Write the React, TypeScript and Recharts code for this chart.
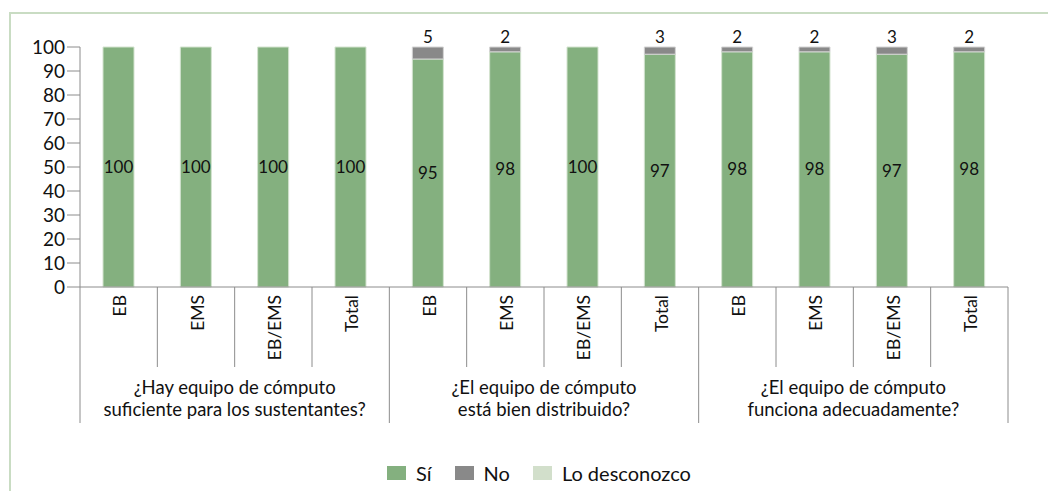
import { BarChart, Bar, XAxis, YAxis, LabelList, Legend } from 'recharts';

// categories and groups
const categories = ['EB', 'EMS', 'EB/EMS', 'Total', 'EB', 'EMS', 'EB/EMS', 'Total', 'EB', 'EMS', 'EB/EMS', 'Total'];
const groups = [
  ['¿Hay equipo de cómputo', 'suficiente para los sustentantes?'],
  ['¿El equipo de cómputo', 'está bien distribuido?'],
  ['¿El equipo de cómputo', 'funciona adecuadamente?'],
];

// series values (%)
const si = [100, 100, 100, 100, 95, 98, 100, 97, 98, 98, 97, 98];
const no = [0, 0, 0, 0, 5, 2, 0, 3, 2, 2, 3, 2];
const desconozco = [0, 0, 0, 0, 0, 0, 0, 0, 0, 0, 0, 0];

const yTicks = [0, 10, 20, 30, 40, 50, 60, 70, 80, 90, 100];

const data = categories.map((c, i) => ({
  id: `c${i}`,
  name: c,
  si: si[i],
  no: no[i],
  lo: desconozco[i],
}));

const COLORS = { si: '#84b07f', no: '#898989', lo: '#d2dfcb' };
const FONT = 'Lato, "Noto Sans", sans-serif';

const WIDTH = 1048;
const HEIGHT = 483;
const MARGIN = { top: 39, right: 48, left: 32, bottom: 8 };
const Y_WIDTH = 40;
const PLOT_W = WIDTH - MARGIN.left - MARGIN.right - Y_WIDTH;
const BAND = PLOT_W / categories.length;
const AXIS_GRAY = '#8c8c8c';

function CategoryTick(props: any) {
  const { x, y, index } = props;
  const half = BAND / 2;
  const groupEnd = index % 4 === 3;
  return (
    <g>
      <text
        transform={`translate(${x + 1},${y + 8}) rotate(-90)`}
        textAnchor="end"
        dominantBaseline="central"
        fontSize={17.5}
        fontFamily={FONT}
        fill="#111"
      >
        {categories[index]}
      </text>
      {index === 0 && (
        <line x1={x - half} x2={x - half} y1={y} y2={y + 136} stroke={AXIS_GRAY} strokeWidth={1} />
      )}
      <line
        x1={x + half}
        x2={x + half}
        y1={y}
        y2={y + (groupEnd ? 136 : 80)}
        stroke={AXIS_GRAY}
        strokeWidth={1}
      />
      {index % 4 === 1 && (
        <text
          x={x + half}
          y={y + 100}
          textAnchor="middle"
          dominantBaseline="central"
          fontSize={18.5}
          fontFamily={FONT}
          fill="#111"
        >
          <tspan x={x + half} dy={0}>{groups[(index - 1) / 4][0]}</tspan>
          <tspan x={x + half} dy={22}>{groups[(index - 1) / 4][1]}</tspan>
        </text>
      )}
    </g>
  );
}

function LegendContent() {
  const items = [
    { label: 'Sí', color: COLORS.si },
    { label: 'No', color: COLORS.no },
    { label: 'Lo desconozco', color: COLORS.lo },
  ];
  return (
    <div
      style={{
        height: 60,
        boxSizing: 'border-box',
        paddingTop: 40,
        paddingLeft: 347,
        display: 'flex',
        alignItems: 'center',
        fontFamily: FONT,
        fontSize: 20,
        color: '#111',
      }}
    >
      {items.map((it) => (
        <div key={it.label} style={{ display: 'flex', alignItems: 'center', marginRight: 23 }}>
          <span style={{ width: 19, height: 14, background: it.color, display: 'inline-block', marginRight: 10 }} />
          <span>{it.label}</span>
        </div>
      ))}
    </div>
  );
}

const hideZero = (v: any) => (v ? v : '');

export default function App() {
  return (
    <div style={{ position: 'relative', width: WIDTH, height: HEIGHT }}>
      <div
        style={{
          position: 'absolute',
          left: 1,
          top: 4,
          width: WIDTH - 1,
          height: HEIGHT - 4,
          borderTop: '2px solid #c9dcc3',
          borderLeft: '2px solid #c9dcc3',
          boxSizing: 'border-box',
        }}
      />
      <BarChart
        width={WIDTH}
        height={HEIGHT}
        data={data}
        margin={MARGIN}
        barSize={31}
        style={{ position: 'absolute', left: 0, top: 0 }}
      >
        <XAxis
          dataKey="id"
          height={136}
          interval={0}
          tickLine={false}
          tickSize={0}
          tickMargin={0}
          axisLine={{ stroke: AXIS_GRAY }}
          tick={<CategoryTick />}
        />
        <YAxis
          width={Y_WIDTH}
          domain={[0, 100]}
          ticks={yTicks}
          interval={0}
          tickSize={13}
          tickMargin={2}
          axisLine={{ stroke: AXIS_GRAY }}
          tickLine={{ stroke: AXIS_GRAY }}
          tick={{ fontSize: 19, fontFamily: FONT, fill: '#111' }}
        />
        <Legend verticalAlign="bottom" content={<LegendContent />} />
        <Bar dataKey="si" name="Sí" stackId="a" fill={COLORS.si} stroke="#d3e3cf" strokeWidth={1} isAnimationActive={false}>
          <LabelList
            dataKey="si"
            position="center"
            formatter={hideZero}
            style={{ fontSize: 17, fontFamily: FONT, fill: '#111' }}
          />
        </Bar>
        <Bar dataKey="no" name="No" stackId="a" fill={COLORS.no} stroke="#d3d3d3" strokeWidth={1} isAnimationActive={false}>
          <LabelList
            dataKey="no"
            position="top"
            offset={4}
            formatter={hideZero}
            style={{ fontSize: 17, fontFamily: FONT, fill: '#111' }}
          />
        </Bar>
        <Bar dataKey="lo" name="Lo desconozco" stackId="a" fill={COLORS.lo} isAnimationActive={false} />
      </BarChart>
    </div>
  );
}
